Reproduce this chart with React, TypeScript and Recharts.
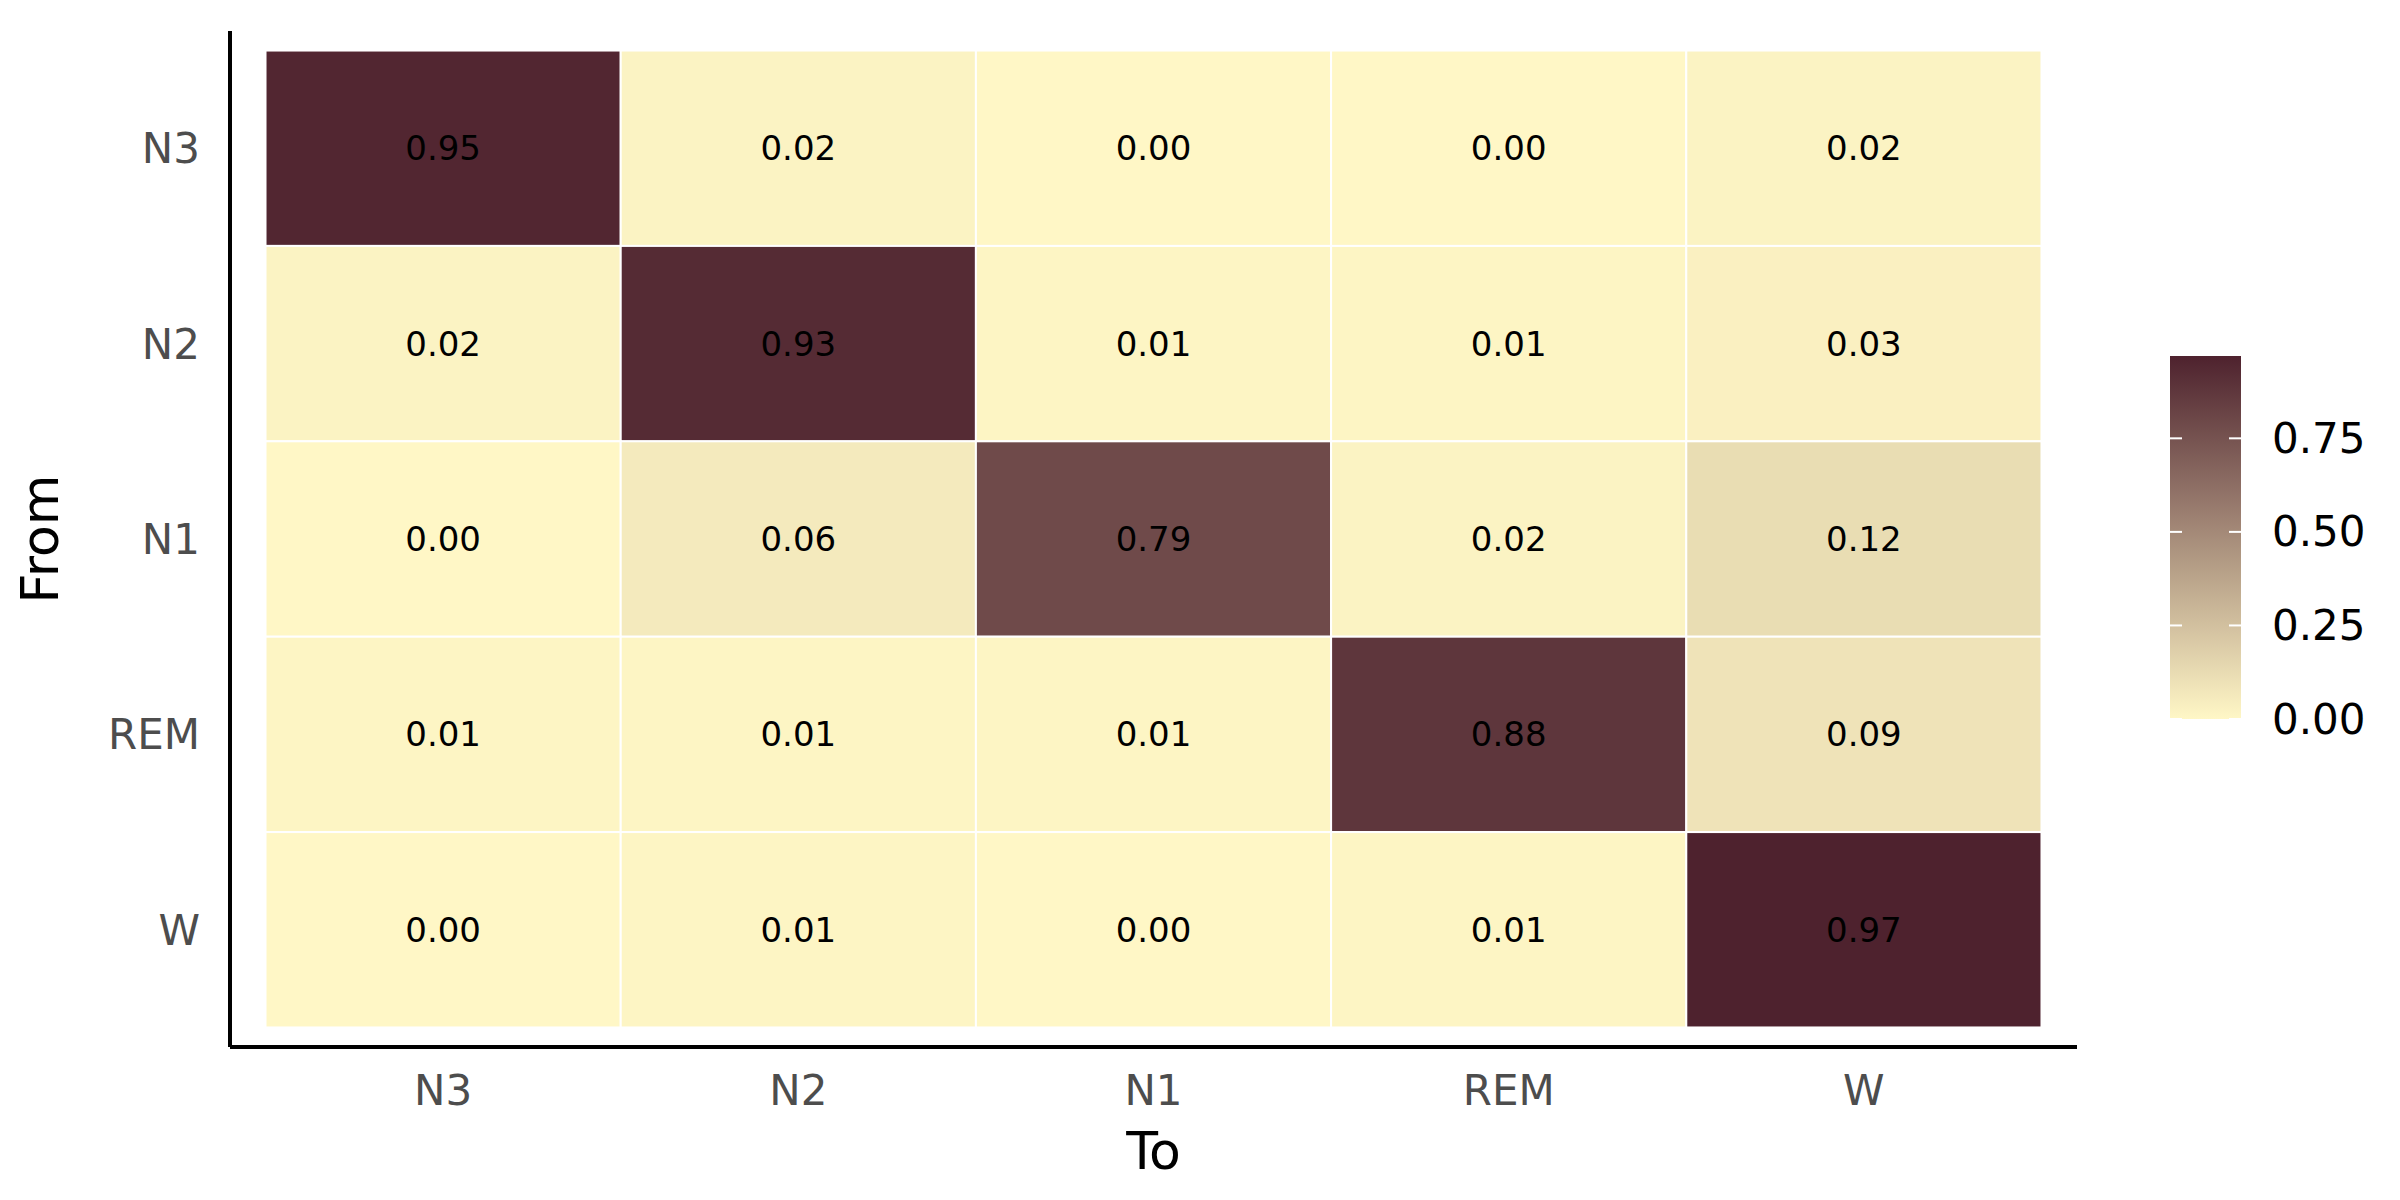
import React from "react";
import { ScatterChart, Scatter, XAxis, YAxis, Label } from "recharts";

const stages = ["N3", "N2", "N1", "REM", "W"];
const rowN3 = [0.95, 0.02, 0.0, 0.0, 0.02];
const rowN2 = [0.02, 0.93, 0.01, 0.01, 0.03];
const rowN1 = [0.0, 0.06, 0.79, 0.02, 0.12];
const rowREM = [0.01, 0.01, 0.01, 0.88, 0.09];
const rowW = [0.0, 0.01, 0.0, 0.01, 0.97];
const rows = [rowN3, rowN2, rowN1, rowREM, rowW];
const legendTicks = [0, 0.25, 0.5, 0.75];
const vmax = 0.97;

const lo = [255, 247, 198];
const hi = [78, 34, 46];
const color = (v: number) => {
  const t = Math.max(0, Math.min(1, v / vmax));
  const c = lo.map((a, i) => Math.round(a + (hi[i] - a) * t));
  return `rgb(${c[0]},${c[1]},${c[2]})`;
};

const data = rows.flatMap((r, i) =>
  r.map((v, j) => ({ x: j, y: 4 - i, v }))
);

const W = 2400, H = 1200;
const M = { top: 31, right: 323, bottom: 23, left: 100 };
const YW = 130, XH = 130;
const plotW = W - M.left - M.right - YW;
const plotH = H - M.top - M.bottom - XH;
const cw = plotW / 5.2, ch = plotH / 5.2;
const font = "DejaVu Sans";

const Cell = (p: any) => {
  const { cx, cy, payload } = p;
  return (
    <g>
      <rect x={cx - cw / 2} y={cy - ch / 2} width={cw} height={ch} fill={color(payload.v)} stroke="#fff" strokeWidth={2} />
      <text x={cx} y={cy} textAnchor="middle" dominantBaseline="central" fontSize={34} fontFamily={font} fill="#000">
        {payload.v.toFixed(2)}
      </text>
    </g>
  );
};

const Legend = () => {
  const x = 2170, top = 356, bot = 719, w = 71;
  const stops = [0, 0.2, 0.4, 0.6, 0.8, 1];
  const yOf = (v: number) => bot - (v / vmax) * (bot - top);
  return (
    <svg width={W} height={H} style={{ position: "absolute", left: 0, top: 0, pointerEvents: "none" }}>
      <defs>
        <linearGradient id="g" x1="0" y1="1" x2="0" y2="0">
          {stops.map((s) => (
            <stop key={s} offset={s} stopColor={color(s * vmax)} />
          ))}
        </linearGradient>
      </defs>
      <rect x={x} y={top} width={w} height={bot - top} fill="url(#g)" />
      {legendTicks.map((t) => (
        <g key={t}>
          <line x1={x} x2={x + 12} y1={yOf(t)} y2={yOf(t)} stroke="#fff" strokeWidth={2} />
          <line x1={x + w - 12} x2={x + w} y1={yOf(t)} y2={yOf(t)} stroke="#fff" strokeWidth={2} />
          <text x={2272} y={yOf(t)} dominantBaseline="central" fontSize={42} fontFamily={font} fill="#000">
            {t.toFixed(2)}
          </text>
        </g>
      ))}
    </svg>
  );
};

export default function App() {
  return (
    <div style={{ position: "relative", margin: -8, width: W, height: H, background: "#fff" }}>
      <ScatterChart width={W} height={H} margin={M}>
        <XAxis
          type="number" dataKey="x" domain={[-0.6, 4.6]} ticks={[0, 1, 2, 3, 4]}
          tickFormatter={(v) => stages[v]} height={XH} tickSize={0} tickMargin={28}
          axisLine={{ stroke: "#000", strokeWidth: 4 }} allowDataOverflow
          tick={{ fontSize: 42, fontFamily: font, fill: "#4d4d4d" }}
        >
          <Label value="To" position="insideBottom" offset={8} style={{ fontSize: 52, fontFamily: font, fill: "#000" }} />
        </XAxis>
        <YAxis
          type="number" dataKey="y" domain={[-0.6, 4.6]} ticks={[0, 1, 2, 3, 4]}
          tickFormatter={(v) => stages[4 - v]} width={YW} tickSize={0} tickMargin={30}
          axisLine={{ stroke: "#000", strokeWidth: 4 }} allowDataOverflow
          tick={{ fontSize: 42, fontFamily: font, fill: "#4d4d4d" }}
        >
          <Label value="From" angle={-90} position="insideLeft" offset={-60} style={{ fontSize: 52, fontFamily: font, fill: "#000", textAnchor: "middle" }} />
        </YAxis>
        <Scatter data={data} shape={Cell} isAnimationActive={false} />
      </ScatterChart>
      <Legend />
    </div>
  );
}
